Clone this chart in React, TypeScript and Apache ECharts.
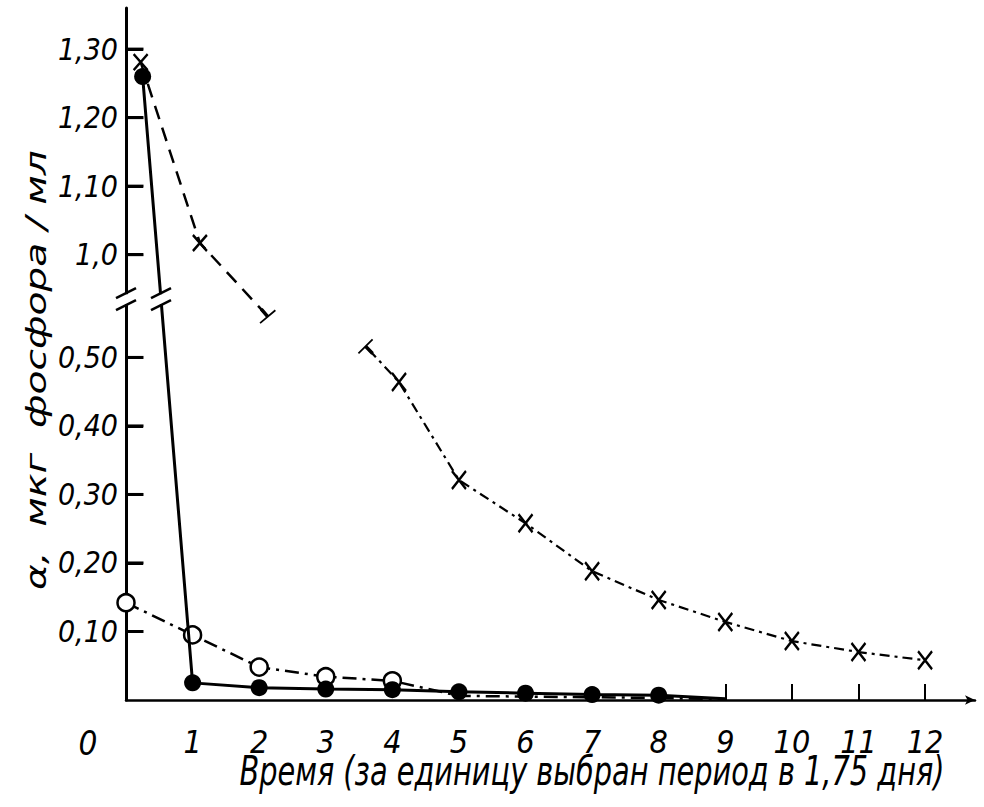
import React, { useEffect, useRef } from "react";
import * as echarts from "echarts";

// ---- data (real values, mg phosphorus / ml) ----
const filledX = [0.25, 1, 2, 3, 4, 5, 6, 7, 8, 9];
const filledY = [1.26, 0.025, 0.018, 0.016, 0.015, 0.012, 0.01, 0.008, 0.007, 0.002];

const openX = [0, 1, 2, 3, 4, 5, 6, 7, 8, 9];
const openY = [0.142, 0.095, 0.048, 0.034, 0.028, 0.006, 0.005, 0.004, 0.003, 0.001];

const crossUpperX = [0.22, 1.11, 2.08];
const crossUpperY = [1.281, 1.017, 0.915];

const crossLowerX = [3.65, 4.1, 5, 6, 7, 8, 9, 10, 11, 12];
const crossLowerY = [0.511, 0.464, 0.321, 0.258, 0.188, 0.146, 0.114, 0.086, 0.07, 0.058];

const yTickValues = [0.1, 0.2, 0.3, 0.4, 0.5, 1.0, 1.1, 1.2, 1.3];
const yTickLabels = ["0,10", "0,20", "0,30", "0,40", "0,50", "1,0", "1,10", "1,20", "1,30"];
const xLabelValues = [1, 2, 3, 4, 5, 6, 7, 8, 9, 10, 11, 12];
const xTickMarks = [9, 10, 11, 12];

const xTitle = "Время (за единицу выбран период в 1,75 дня)";
const yTitle = "α,  мкг  фосфора / мл";

// broken axis: values above the break are shifted down
const BREAK_AT = 0.75;
const SHIFT = 0.35;
const BREAK_DISPLAY = 0.585;
const disp = (v: number) => (v > BREAK_AT ? v - SHIFT : v);

const NARROW = "'Liberation Sans Narrow', 'DejaVu Sans Condensed', sans-serif";
const WIDE = "'DejaVu Sans', sans-serif";

const crossSym = "path://M0,0L10,12M10,0L0,12";
const teeDown = "path://M0,10L20,10M10,10L10,0";
const teeUp = "path://M0,0L20,0M10,0L10,10";
const tickSym = "path://M0,0L17,0L17,3L0,3Z";

function measure(text: string, font: string) {
  const ctx = document.createElement("canvas").getContext("2d");
  if (!ctx) return 1;
  ctx.font = font;
  return ctx.measureText(text).width || 1;
}

export default function App() {
  const ref = useRef<HTMLDivElement>(null);
  useEffect(() => {
    if (!ref.current) return;
    const chart = echarts.init(ref.current, null, { renderer: "svg" });

    const d0 = disp(filledY[0]);
    const d1 = disp(filledY[1]);
    const bx = filledX[0] + ((d0 - BREAK_DISPLAY) / (d0 - d1)) * (filledX[1] - filledX[0]);

    const xTitleFont = `italic 40px ${WIDE}`;
    const yTitleFont = `italic 29px ${WIDE}`;
    const xTitleScale = 705 / measure(xTitle, xTitleFont);
    const yTitleScale = 440 / measure(yTitle, yTitleFont);

    const black = "#000000";
    const yDispTicks = yTickValues.map(disp);

    const option: any = {
      animation: false,
      backgroundColor: "#fff",
      grid: { left: 126, right: 9, top: 8, bottom: 107, containLabel: false },
      xAxis: {
        type: "value",
        min: 0,
        max: 12.75,
        interval: 1,
        splitLine: { show: false },
        axisTick: {
          show: true,
          inside: true,
          length: 16,
          customValues: xTickMarks,
          lineStyle: { color: black, width: 2 },
        },
        axisLine: {
          show: true,
          lineStyle: { color: black, width: 2.5 },
          symbol: ["none", "arrow"],
          symbolSize: [7, 10],
        },
        axisLabel: {
          margin: 26,
          fontFamily: NARROW,
          fontStyle: "italic",
          fontSize: 32,
          color: black,
          customValues: xLabelValues,
          formatter: (v: number) => String(v),
        },
      },
      yAxis: {
        type: "value",
        min: 0,
        max: 1.01,
        interval: 0.05,
        splitLine: { show: false },
        axisTick: {
          show: true,
          inside: true,
          length: 17,
          customValues: yDispTicks,
          lineStyle: { color: black, width: 3 },
        },
        axisLine: { show: true, lineStyle: { color: black, width: 3 } },
        axisLabel: {
          margin: 8,
          fontFamily: NARROW,
          fontStyle: "italic",
          fontSize: 30,
          color: black,
          customValues: yDispTicks,
          formatter: (v: number) => {
            const i = yDispTicks.findIndex((t) => Math.abs(t - v) < 1e-6);
            return i >= 0 ? yTickLabels[i] : "";
          },
        },
      },
      graphic: [
        {
          type: "text",
          x: 88,
          y: 743,
          style: {
            text: "0",
            font: `italic 33px ${NARROW}`,
            fill: black,
            textAlign: "center",
            textVerticalAlign: "middle",
          },
        },
        {
          type: "text",
          x: 592,
          y: 771,
          scaleX: xTitleScale,
          style: {
            text: xTitle,
            font: xTitleFont,
            fill: black,
            textAlign: "center",
            textVerticalAlign: "middle",
          },
        },
        {
          type: "text",
          x: 36,
          y: 370,
          rotation: Math.PI / 2,
          scaleX: yTitleScale,
          style: {
            text: yTitle,
            font: yTitleFont,
            fill: black,
            textAlign: "center",
            textVerticalAlign: "middle",
          },
        },
      ],
      series: [
        {
          type: "line",
          name: "solid",
          data: filledX.map((x, i) => ({
            value: [x, disp(filledY[i])],
            symbol: i === filledX.length - 1 ? "none" : "circle",
          })),
          symbolSize: 17,
          itemStyle: { color: black },
          lineStyle: { color: black, width: 3, type: "solid" },
          z: 4,
        },
        {
          type: "line",
          name: "open",
          data: openX.map((x, i) => ({
            value: [x, disp(openY[i])],
            symbol: i <= 4 ? "circle" : "none",
          })),
          symbolSize: 17,
          itemStyle: { color: "#fff", borderColor: black, borderWidth: 2.5 },
          lineStyle: { color: black, width: 2.5, type: [14, 6, 3, 6] },
          z: 3,
        },
        {
          type: "line",
          name: "crossUpper",
          data: crossUpperX.map((x, i) => ({
            value: [x, disp(crossUpperY[i])],
            symbol: i === crossUpperX.length - 1 ? teeDown : crossSym,
            symbolRotate: i === crossUpperX.length - 1 ? 40 : 0,
            symbolSize: i === crossUpperX.length - 1 ? [20, 10] : [14, 16],
          })),
          itemStyle: { color: "none", borderColor: black, borderWidth: 2.5 },
          lineStyle: { color: black, width: 2.5, type: [14, 9] },
          z: 2,
        },
        {
          type: "line",
          name: "crossLower",
          data: crossLowerX.map((x, i) => ({
            value: [x, disp(crossLowerY[i])],
            symbol: i === 0 ? teeUp : crossSym,
            symbolRotate: i === 0 ? 45 : 0,
            symbolSize: i === 0 ? [20, 10] : [14, 18],
          })),
          itemStyle: { color: "none", borderColor: black, borderWidth: 2.5 },
          lineStyle: { color: black, width: 2.2, type: [10, 5, 3, 5] },
          z: 2,
        },
        {
          type: "line",
          name: "yTickMarks",
          silent: true,
          data: yDispTicks.map((t) => [0, t]),
          symbol: tickSym,
          symbolSize: [17, 3],
          symbolOffset: [9, 0],
          symbolKeepAspect: false,
          showAllSymbol: true,
          lineStyle: { opacity: 0, width: 0 },
          itemStyle: { color: black, borderWidth: 0 },
          z: 6,
        },
        {
          type: "custom",
          name: "breaks",
          z: 10,
          silent: true,
          data: [
            [0, BREAK_DISPLAY],
            [bx, BREAK_DISPLAY],
          ],
          renderItem: (_p: any, api: any) => {
            const p = api.coord([api.value(0), api.value(1)]);
            const x = p[0];
            const y = p[1];
            return {
              type: "group",
              children: [
                {
                  type: "rect",
                  shape: { x: x - 8, y: y - 5, width: 16, height: 10 },
                  style: { fill: "#fff" },
                },
                {
                  type: "line",
                  shape: { x1: x - 10, y1: y - 1, x2: x + 10, y2: y - 11 },
                  style: { stroke: black, lineWidth: 2.5 },
                },
                {
                  type: "line",
                  shape: { x1: x - 10, y1: y + 11, x2: x + 10, y2: y + 1 },
                  style: { stroke: black, lineWidth: 2.5 },
                },
              ],
            };
          },
        },
      ],
    };
    chart.setOption(option);
    return () => chart.dispose();
  }, []);

  return (
    <div
      ref={ref}
      style={{ position: "fixed", left: 0, top: 0, width: 984, height: 807, background: "#fff" }}
    />
  );
}
